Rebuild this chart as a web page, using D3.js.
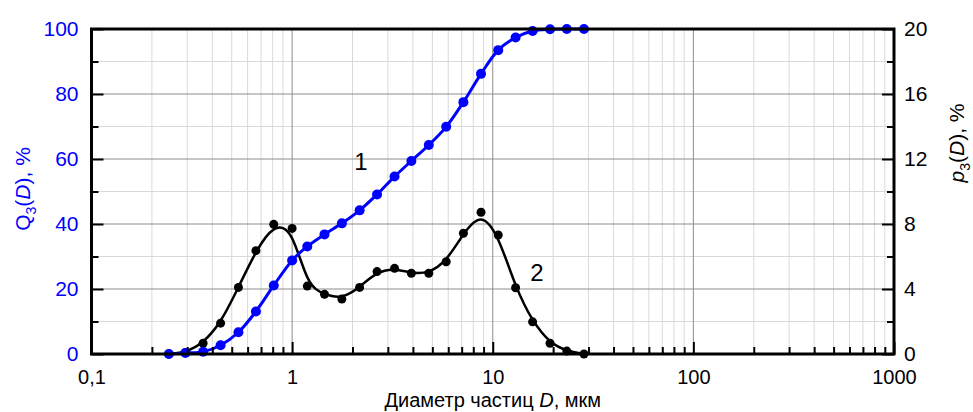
<!DOCTYPE html>
<html><head><meta charset="utf-8">
<script src="https://cdn.jsdelivr.net/npm/d3@7"></script>
<style>
html,body{margin:0;padding:0;background:#fff;}
svg{display:block;font-family:"Liberation Sans",Arial,sans-serif;}
</style></head>
<body>
<svg id="c" width="973" height="412"></svg>
<script>
// Data
const diameters = [0.243, 0.294, 0.36, 0.44, 0.54, 0.66, 0.81, 1.0, 1.19, 1.45, 1.77, 2.17, 2.65, 3.24, 3.93, 4.8, 5.86, 7.14, 8.74, 10.65, 13.0, 15.8, 19.3, 23.4, 28.5];
const q3Values = [0, 0.3, 0.7, 2.7, 6.7, 13.1, 21.1, 28.8, 33.1, 36.8, 40.2, 44.2, 49.1, 54.6, 59.4, 64.3, 69.9, 77.5, 86.2, 93.5, 97.4, 99.4, 99.9, 100, 100];
const p3Values = [0, 0.1, 0.66, 1.9, 4.1, 6.36, 7.98, 7.73, 4.18, 3.67, 3.38, 4.1, 5.07, 5.27, 4.97, 4.97, 5.68, 7.43, 8.72, 7.32, 4.08, 1.98, 0.66, 0.18, 0];
const xTickValues = [0.1, 1, 10, 100, 1000];
const xTickLabels = ["0,1", "1", "10", "100", "1000"];
const leftTicks = [0, 20, 40, 60, 80, 100];
const rightTicks = [0, 4, 8, 12, 16, 20];
const curveLabels = [{text: "1", d: 2.2, v: 56.6}, {text: "2", d: 16.6, v: 4.5, right: true}];

const L = 91.5, R = 894, T = 29, B = 354;
const svg = d3.select("#c");
const x = d3.scaleLog().domain([0.1, 1000]).range([L, R]);
const yL = d3.scaleLinear().domain([0, 100]).range([B, T]);
const yR = d3.scaleLinear().domain([0, 20]).range([B, T]);

const minorX = [];
[0.1, 1, 10, 100].forEach(b => { for (let k = 2; k <= 9; k++) minorX.push(b * k); });
const majorXInner = [1, 10, 100];
const minorY = [10, 30, 50, 70, 90];
const majorYInner = [20, 40, 60, 80];

// grid
const g = svg.append("g");
g.selectAll(".gmx").data(minorX).join("line")
  .attr("x1", d => x(d)).attr("x2", d => x(d)).attr("y1", T).attr("y2", B)
  .attr("stroke", "#d9d9d9").attr("stroke-width", 1);
g.selectAll(".gmy").data(minorY).join("line")
  .attr("x1", L).attr("x2", R).attr("y1", d => yL(d)).attr("y2", d => yL(d))
  .attr("stroke", "#d9d9d9").attr("stroke-width", 1);
g.selectAll(".gMx").data(majorXInner).join("line")
  .attr("x1", d => x(d)).attr("x2", d => x(d)).attr("y1", T).attr("y2", B)
  .attr("stroke", "#8c8c8c").attr("stroke-width", 1);
g.selectAll(".gMy").data(majorYInner).join("line")
  .attr("x1", L).attr("x2", R).attr("y1", d => yL(d)).attr("y2", d => yL(d))
  .attr("stroke", "#8c8c8c").attr("stroke-width", 1);

// series
const pts = diameters.map((d, i) => ({d, q: q3Values[i], p: p3Values[i]}));
const lineP = d3.line().x(d => x(d.d)).y(d => yR(d.p)).curve(d3.curveBasis);
const lineQ = d3.line().x(d => x(d.d)).y(d => yL(d.q)).curve(d3.curveCatmullRom);

svg.append("path").attr("d", lineP(pts)).attr("fill", "none").attr("stroke", "#000").attr("stroke-width", 2.5);
svg.append("g").selectAll("circle").data(pts).join("circle")
  .attr("cx", d => x(d.d)).attr("cy", d => yR(d.p)).attr("r", 4.5).attr("fill", "#000");
svg.append("path").attr("d", lineQ(pts)).attr("fill", "none").attr("stroke", "#0000ff").attr("stroke-width", 3);
svg.append("g").selectAll("circle").data(pts).join("circle")
  .attr("cx", d => x(d.d)).attr("cy", d => yL(d.q)).attr("r", 5).attr("fill", "#0000ff");

// axes (inward ticks)
const fontFam = "'Liberation Sans',Arial,sans-serif";
const axB = svg.append("g").attr("transform", `translate(0,${B})`);
axB.call(d3.axisBottom(x).tickValues(minorX).tickSize(-7).tickFormat(""));
axB.call(g2 => g2.append("g").call(d3.axisBottom(x).tickValues(xTickValues).tickSize(-12).tickPadding(16)
  .tickFormat((d, i) => xTickLabels[i])));
const axL = svg.append("g").attr("transform", `translate(${L},0)`);
axL.call(d3.axisLeft(yL).tickValues(minorY).tickSize(-7).tickFormat(""));
axL.append("g").call(d3.axisLeft(yL).tickValues(leftTicks).tickSize(-12).tickPadding(13));
const axR = svg.append("g").attr("transform", `translate(${R},0)`);
axR.call(d3.axisRight(yR).tickValues([2, 6, 10, 14, 18]).tickSize(-7).tickFormat(""));
axR.append("g").call(d3.axisRight(yR).tickValues(rightTicks).tickSize(-12).tickPadding(10));
svg.selectAll(".domain").remove();
svg.selectAll(".tick line").attr("stroke", "#000").attr("stroke-width", 2);
svg.selectAll(".tick text").attr("font-size", "21px").attr("font-family", fontFam).attr("fill", "#000");
axL.selectAll(".tick text").attr("fill", "#0000ff");
axB.selectAll(".tick text").attr("dy", "0.71em").attr("font-size", "20px");

// frame
svg.append("rect").attr("x", L).attr("y", T).attr("width", R - L).attr("height", B - T)
  .attr("fill", "none").attr("stroke", "#000").attr("stroke-width", 3);

// axis titles
const xt = svg.append("text").attr("x", (L + R) / 2).attr("y", 407).attr("text-anchor", "middle")
  .attr("font-size", "20px").attr("fill", "#000");
xt.append("tspan").text("Диаметр частиц ");
xt.append("tspan").attr("font-style", "italic").text("D");
xt.append("tspan").text(", мкм");

const ytl = svg.append("text").attr("transform", "translate(30,189) rotate(-90)").attr("text-anchor", "middle")
  .attr("font-size", "21px").attr("fill", "#0000ff");
ytl.append("tspan").text("Q");
ytl.append("tspan").attr("font-size", "14px").attr("dy", 6).text("3");
ytl.append("tspan").attr("dy", -6).text("(");
ytl.append("tspan").attr("font-style", "italic").text("D");
ytl.append("tspan").text("), %");

const ytr = svg.append("text").attr("transform", "translate(964,143) rotate(-90)").attr("text-anchor", "middle")
  .attr("font-size", "21px").attr("fill", "#000");
ytr.append("tspan").attr("font-style", "italic").text("p");
ytr.append("tspan").attr("font-size", "14px").attr("dy", 6).text("3");
ytr.append("tspan").attr("dy", -6).text("(");
ytr.append("tspan").attr("font-style", "italic").text("D");
ytr.append("tspan").text("), %");

// curve labels
svg.selectAll(".cl").data(curveLabels).join("text")
  .attr("x", d => x(d.d)).attr("y", d => d.right ? yR(d.v) : yL(d.v))
  .attr("text-anchor", "middle").attr("font-size", "24px").attr("fill", "#000").text(d => d.text);
</script>
</body></html>
